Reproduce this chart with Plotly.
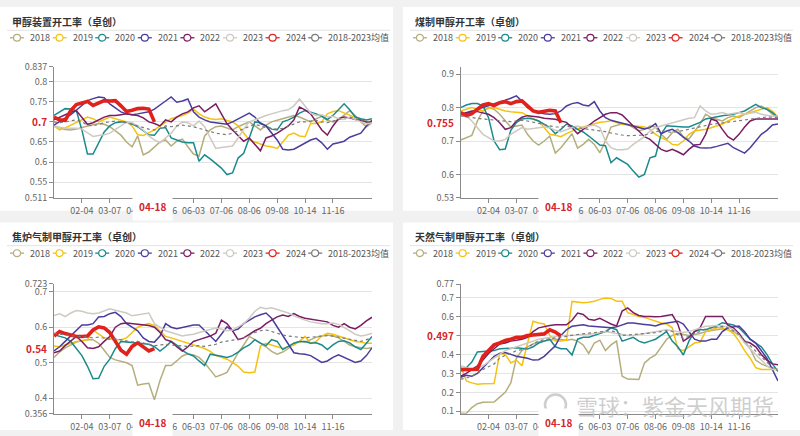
import plotly.graph_objects as go

# ---------------- data ----------------
weeks = list(range(58))
tick_idx = [5, 10, 15, 20, 25, 30, 35, 40, 45, 50]
tick_text = ["02-04", "03-07", "04-01", "05-06", "06-03", "07-06", "08-06", "09-08", "10-14", "11-16"]
current_label = "04-18"

series_names = ["2018", "2019", "2020", "2021", "2022", "2023", "2024", "2018-2023均值"]

# Panel 1: 甲醇装置开工率
p1_2018 = [0.690,0.686,0.681,0.680,0.682,0.686,0.690,0.693,0.696,0.694,0.688,0.678,0.667,0.650,0.638,0.665,0.618,0.625,0.638,0.650,0.655,0.640,0.652,0.657,0.638,0.620,0.615,0.665,0.680,0.688,0.690,0.685,0.680,0.688,0.695,0.700,0.690,0.680,0.692,0.700,0.704,0.708,0.712,0.716,0.712,0.705,0.700,0.708,0.714,0.704,0.700,0.706,0.716,0.728,0.716,0.700,0.688,0.698]
p1_2019 = [0.690,0.680,0.685,0.692,0.700,0.706,0.712,0.708,0.700,0.706,0.712,0.708,0.704,0.700,0.690,0.668,0.666,0.672,0.680,0.690,0.700,0.708,0.712,0.716,0.722,0.732,0.720,0.712,0.708,0.706,0.708,0.704,0.700,0.690,0.672,0.655,0.650,0.645,0.640,0.638,0.634,0.650,0.667,0.672,0.665,0.663,0.696,0.696,0.700,0.720,0.726,0.728,0.722,0.716,0.712,0.706,0.700,0.702]
p1_2020 = [0.716,0.724,0.733,0.732,0.728,0.680,0.620,0.620,0.648,0.675,0.690,0.698,0.700,0.700,0.695,0.688,0.678,0.668,0.667,0.684,0.686,0.660,0.655,0.650,0.648,0.648,0.602,0.618,0.608,0.597,0.585,0.569,0.573,0.610,0.622,0.660,0.700,0.698,0.690,0.682,0.680,0.700,0.705,0.712,0.722,0.728,0.724,0.720,0.714,0.706,0.716,0.730,0.745,0.730,0.712,0.708,0.705,0.708]
p1_2021 = [0.692,0.700,0.708,0.718,0.729,0.740,0.753,0.758,0.762,0.760,0.745,0.735,0.725,0.720,0.718,0.720,0.722,0.725,0.732,0.741,0.752,0.762,0.749,0.752,0.757,0.725,0.712,0.705,0.700,0.698,0.696,0.694,0.700,0.708,0.716,0.722,0.712,0.696,0.690,0.672,0.655,0.632,0.630,0.632,0.640,0.648,0.655,0.659,0.648,0.632,0.645,0.648,0.652,0.662,0.668,0.672,0.690,0.704]
p1_2022 = [0.705,0.712,0.718,0.724,0.728,0.710,0.694,0.698,0.706,0.712,0.716,0.716,0.718,0.720,0.718,0.716,0.710,0.700,0.696,0.690,0.705,0.700,0.712,0.720,0.725,0.735,0.740,0.725,0.735,0.745,0.720,0.696,0.680,0.665,0.652,0.660,0.645,0.628,0.660,0.665,0.672,0.680,0.690,0.705,0.737,0.730,0.720,0.700,0.680,0.667,0.690,0.708,0.712,0.710,0.706,0.704,0.700,0.700]
p1_2023 = [0.688,0.686,0.685,0.684,0.684,0.682,0.672,0.664,0.666,0.668,0.672,0.680,0.690,0.700,0.698,0.690,0.680,0.665,0.655,0.648,0.660,0.672,0.690,0.700,0.698,0.690,0.702,0.688,0.660,0.634,0.636,0.638,0.640,0.660,0.682,0.700,0.706,0.710,0.716,0.720,0.724,0.728,0.730,0.740,0.757,0.738,0.722,0.716,0.718,0.712,0.714,0.708,0.706,0.712,0.705,0.700,0.695,0.698]
p1_2024 = [0.712,0.705,0.704,0.728,0.743,0.748,0.751,0.741,0.748,0.753,0.752,0.753,0.740,0.726,0.729,0.733,0.734,0.732,0.700]
p1_avg = [0.700,0.698,0.700,0.703,0.705,0.700,0.692,0.690,0.694,0.698,0.700,0.702,0.700,0.698,0.694,0.690,0.686,0.682,0.680,0.684,0.690,0.688,0.690,0.692,0.690,0.688,0.684,0.680,0.676,0.672,0.670,0.668,0.672,0.678,0.684,0.690,0.694,0.690,0.686,0.684,0.682,0.684,0.690,0.696,0.700,0.700,0.702,0.704,0.700,0.698,0.702,0.706,0.710,0.712,0.708,0.704,0.700,0.700]

# Panel 2: 煤制甲醇开工率
p2_2018 = [0.703,0.710,0.717,0.760,0.790,0.800,0.795,0.780,0.760,0.742,0.745,0.748,0.720,0.700,0.688,0.700,0.715,0.664,0.680,0.700,0.722,0.679,0.690,0.705,0.690,0.665,0.700,0.742,0.748,0.752,0.750,0.740,0.730,0.735,0.745,0.742,0.720,0.705,0.725,0.735,0.712,0.706,0.730,0.751,0.780,0.770,0.765,0.760,0.770,0.775,0.770,0.780,0.790,0.800,0.805,0.795,0.780,0.770]
p2_2019 = [0.790,0.795,0.800,0.795,0.790,0.798,0.800,0.795,0.790,0.788,0.786,0.785,0.776,0.766,0.760,0.740,0.720,0.717,0.713,0.722,0.730,0.737,0.742,0.747,0.752,0.756,0.758,0.761,0.755,0.750,0.748,0.746,0.745,0.742,0.735,0.720,0.710,0.703,0.690,0.688,0.700,0.720,0.730,0.732,0.735,0.740,0.745,0.751,0.760,0.768,0.775,0.780,0.785,0.790,0.795,0.800,0.790,0.771]
p2_2020 = [0.800,0.808,0.812,0.812,0.805,0.770,0.700,0.674,0.676,0.732,0.755,0.766,0.768,0.766,0.760,0.750,0.740,0.722,0.735,0.751,0.745,0.735,0.727,0.715,0.700,0.688,0.686,0.635,0.650,0.640,0.630,0.610,0.592,0.600,0.650,0.655,0.720,0.746,0.744,0.742,0.742,0.742,0.748,0.756,0.766,0.770,0.774,0.776,0.778,0.780,0.785,0.790,0.800,0.810,0.800,0.795,0.785,0.771]
p2_2021 = [0.778,0.782,0.788,0.795,0.800,0.806,0.812,0.816,0.822,0.828,0.835,0.820,0.800,0.790,0.785,0.782,0.780,0.782,0.790,0.805,0.812,0.815,0.808,0.805,0.818,0.790,0.770,0.762,0.758,0.754,0.750,0.746,0.742,0.736,0.740,0.752,0.722,0.730,0.735,0.725,0.712,0.700,0.685,0.680,0.679,0.680,0.684,0.688,0.693,0.680,0.672,0.664,0.680,0.700,0.720,0.732,0.748,0.751]
p2_2022 = [0.780,0.785,0.790,0.788,0.785,0.780,0.770,0.755,0.735,0.740,0.760,0.771,0.776,0.775,0.772,0.768,0.766,0.765,0.760,0.756,0.740,0.722,0.735,0.746,0.760,0.771,0.780,0.785,0.785,0.778,0.760,0.745,0.730,0.713,0.705,0.690,0.675,0.669,0.675,0.668,0.659,0.675,0.688,0.690,0.720,0.766,0.760,0.735,0.713,0.703,0.720,0.742,0.760,0.766,0.766,0.766,0.766,0.766]
p2_2023 = [0.780,0.775,0.760,0.740,0.720,0.710,0.700,0.700,0.705,0.720,0.730,0.740,0.735,0.738,0.740,0.742,0.740,0.732,0.728,0.735,0.740,0.745,0.740,0.745,0.748,0.740,0.700,0.680,0.674,0.674,0.676,0.690,0.702,0.713,0.730,0.740,0.745,0.750,0.755,0.760,0.765,0.768,0.770,0.805,0.790,0.780,0.782,0.785,0.780,0.782,0.785,0.780,0.782,0.786,0.780,0.776,0.774,0.775]
p2_2024 = [0.785,0.776,0.782,0.795,0.808,0.812,0.806,0.815,0.818,0.812,0.818,0.820,0.805,0.790,0.786,0.788,0.792,0.790,0.755]
p2_avg = [0.775,0.772,0.770,0.768,0.766,0.764,0.762,0.760,0.760,0.758,0.760,0.762,0.760,0.756,0.752,0.748,0.745,0.742,0.742,0.744,0.742,0.740,0.738,0.736,0.734,0.732,0.728,0.724,0.720,0.718,0.716,0.716,0.717,0.718,0.722,0.728,0.730,0.728,0.726,0.728,0.732,0.736,0.740,0.744,0.748,0.750,0.752,0.754,0.756,0.758,0.760,0.762,0.765,0.768,0.770,0.772,0.771,0.770]

# Panel 3: 焦炉气制甲醇开工率
p3_2018 = [0.515,0.530,0.542,0.550,0.558,0.562,0.565,0.565,0.555,0.535,0.515,0.508,0.505,0.500,0.492,0.437,0.440,0.442,0.396,0.450,0.492,0.492,0.505,0.519,0.525,0.522,0.515,0.500,0.480,0.460,0.466,0.473,0.500,0.528,0.550,0.574,0.565,0.555,0.545,0.532,0.524,0.530,0.540,0.555,0.560,0.558,0.565,0.572,0.575,0.578,0.575,0.570,0.560,0.550,0.545,0.542,0.540,0.542]
p3_2019 = [0.547,0.545,0.550,0.556,0.560,0.562,0.565,0.592,0.580,0.570,0.568,0.565,0.565,0.570,0.585,0.600,0.606,0.610,0.605,0.590,0.574,0.570,0.565,0.560,0.555,0.550,0.545,0.540,0.532,0.520,0.515,0.510,0.501,0.490,0.474,0.472,0.474,0.547,0.555,0.550,0.545,0.540,0.545,0.550,0.560,0.574,0.555,0.560,0.575,0.583,0.580,0.575,0.570,0.565,0.560,0.558,0.555,0.555]
p3_2020 = [0.579,0.575,0.570,0.560,0.540,0.520,0.490,0.455,0.456,0.490,0.510,0.540,0.560,0.558,0.556,0.555,0.554,0.552,0.545,0.533,0.545,0.560,0.550,0.535,0.525,0.519,0.505,0.492,0.524,0.520,0.518,0.515,0.520,0.530,0.542,0.550,0.565,0.555,0.548,0.565,0.560,0.537,0.545,0.555,0.560,0.560,0.555,0.556,0.550,0.537,0.550,0.560,0.562,0.556,0.545,0.537,0.555,0.574]
p3_2021 = [0.533,0.545,0.560,0.575,0.592,0.606,0.606,0.610,0.629,0.630,0.638,0.642,0.630,0.610,0.600,0.590,0.570,0.560,0.558,0.575,0.610,0.600,0.596,0.600,0.604,0.606,0.606,0.590,0.575,0.560,0.580,0.601,0.590,0.595,0.610,0.620,0.629,0.635,0.640,0.625,0.600,0.574,0.550,0.528,0.525,0.524,0.520,0.510,0.501,0.505,0.515,0.522,0.515,0.508,0.501,0.505,0.520,0.542]
p3_2022 = [0.528,0.533,0.548,0.562,0.574,0.560,0.542,0.540,0.545,0.560,0.574,0.600,0.610,0.612,0.610,0.608,0.606,0.605,0.600,0.585,0.565,0.560,0.545,0.533,0.545,0.560,0.565,0.570,0.575,0.583,0.620,0.610,0.590,0.565,0.570,0.580,0.590,0.597,0.610,0.620,0.629,0.634,0.630,0.638,0.630,0.625,0.622,0.620,0.618,0.615,0.605,0.600,0.610,0.600,0.595,0.605,0.618,0.628]
p3_2023 = [0.633,0.638,0.630,0.640,0.647,0.645,0.640,0.638,0.640,0.645,0.652,0.648,0.645,0.640,0.632,0.635,0.638,0.640,0.610,0.600,0.590,0.585,0.580,0.575,0.578,0.580,0.585,0.590,0.595,0.598,0.595,0.590,0.592,0.600,0.610,0.625,0.645,0.656,0.652,0.655,0.650,0.645,0.640,0.632,0.625,0.620,0.615,0.612,0.610,0.610,0.612,0.608,0.600,0.590,0.580,0.575,0.578,0.583]
p3_2024 = [0.575,0.588,0.582,0.578,0.574,0.574,0.575,0.592,0.601,0.598,0.585,0.560,0.535,0.524,0.546,0.556,0.545,0.533,0.540]
p3_avg = [0.583,0.580,0.578,0.576,0.575,0.574,0.572,0.570,0.572,0.568,0.566,0.568,0.565,0.560,0.558,0.560,0.556,0.553,0.548,0.550,0.552,0.550,0.548,0.547,0.546,0.547,0.548,0.546,0.548,0.552,0.558,0.560,0.562,0.566,0.570,0.578,0.585,0.590,0.592,0.588,0.582,0.578,0.575,0.574,0.572,0.570,0.572,0.574,0.575,0.576,0.575,0.572,0.570,0.566,0.562,0.560,0.565,0.570]

# Panel 4: 天然气制甲醇开工率
p4_2018 = [0.090,0.089,0.120,0.140,0.148,0.148,0.149,0.175,0.200,0.250,0.380,0.420,0.440,0.455,0.465,0.470,0.475,0.480,0.478,0.475,0.480,0.470,0.450,0.405,0.460,0.475,0.420,0.450,0.470,0.285,0.270,0.268,0.268,0.354,0.380,0.397,0.440,0.480,0.500,0.510,0.505,0.500,0.505,0.510,0.520,0.525,0.530,0.535,0.530,0.520,0.500,0.470,0.430,0.370,0.350,0.337,0.330,0.320]
p4_2019 = [0.340,0.260,0.250,0.243,0.245,0.245,0.246,0.405,0.400,0.355,0.370,0.340,0.450,0.575,0.565,0.560,0.500,0.470,0.470,0.475,0.679,0.675,0.672,0.675,0.680,0.690,0.697,0.695,0.680,0.680,0.620,0.610,0.600,0.595,0.585,0.575,0.565,0.560,0.540,0.430,0.420,0.440,0.460,0.465,0.520,0.530,0.540,0.540,0.530,0.510,0.470,0.420,0.380,0.330,0.320,0.320,0.320,0.320]
p4_2020 = [0.320,0.330,0.360,0.413,0.415,0.418,0.420,0.430,0.430,0.432,0.435,0.430,0.428,0.440,0.460,0.470,0.480,0.440,0.430,0.430,0.397,0.480,0.490,0.490,0.500,0.510,0.520,0.540,0.530,0.470,0.480,0.490,0.470,0.460,0.470,0.480,0.500,0.520,0.470,0.440,0.397,0.470,0.520,0.530,0.530,0.540,0.550,0.567,0.560,0.555,0.540,0.510,0.480,0.460,0.440,0.400,0.350,0.310]
p4_2021 = [0.280,0.290,0.285,0.300,0.330,0.360,0.390,0.405,0.410,0.400,0.390,0.385,0.380,0.370,0.372,0.390,0.420,0.445,0.500,0.530,0.548,0.552,0.556,0.550,0.548,0.545,0.545,0.540,0.545,0.555,0.565,0.565,0.560,0.558,0.555,0.550,0.560,0.565,0.570,0.575,0.560,0.520,0.480,0.470,0.470,0.480,0.480,0.520,0.540,0.545,0.550,0.520,0.480,0.460,0.420,0.380,0.320,0.260]
p4_2022 = [0.285,0.300,0.320,0.340,0.370,0.405,0.430,0.455,0.460,0.470,0.475,0.480,0.490,0.520,0.540,0.548,0.552,0.556,0.556,0.556,0.580,0.618,0.610,0.585,0.580,0.590,0.575,0.560,0.550,0.628,0.645,0.620,0.605,0.600,0.600,0.598,0.600,0.605,0.610,0.560,0.470,0.490,0.520,0.540,0.600,0.600,0.600,0.600,0.554,0.540,0.510,0.470,0.460,0.440,0.400,0.370,0.350,0.345]
p4_2023 = [0.340,0.330,0.320,0.325,0.340,0.360,0.380,0.400,0.420,0.430,0.440,0.450,0.460,0.470,0.480,0.485,0.490,0.495,0.498,0.500,0.500,0.502,0.505,0.505,0.510,0.515,0.520,0.515,0.510,0.505,0.500,0.500,0.505,0.510,0.515,0.520,0.525,0.530,0.525,0.520,0.515,0.520,0.530,0.540,0.548,0.550,0.552,0.550,0.545,0.530,0.500,0.460,0.430,0.400,0.370,0.340,0.320,0.320]
p4_2024 = [0.320,0.320,0.320,0.322,0.390,0.422,0.450,0.460,0.473,0.480,0.490,0.490,0.499,0.502,0.504,0.508,0.530,0.518,0.497]
p4_avg = [0.270,0.275,0.285,0.300,0.320,0.335,0.350,0.380,0.395,0.405,0.420,0.425,0.435,0.455,0.470,0.478,0.482,0.485,0.490,0.495,0.500,0.505,0.510,0.512,0.515,0.520,0.522,0.524,0.518,0.500,0.502,0.505,0.508,0.510,0.512,0.515,0.520,0.525,0.522,0.505,0.485,0.495,0.510,0.520,0.535,0.540,0.545,0.548,0.540,0.525,0.505,0.475,0.445,0.415,0.385,0.355,0.330,0.315]

titles = ["甲醇装置开工率（卓创）", "煤制甲醇开工率（卓创）", "焦炉气制甲醇开工率（卓创）", "天然气制甲醇开工率（卓创）"]
y_ticks = [
    [0.511, 0.55, 0.6, 0.65, 0.7, 0.75, 0.8, 0.837],
    [0.53, 0.6, 0.7, 0.8, 0.9],
    [0.356, 0.4, 0.5, 0.6, 0.7, 0.723],
    [0.1, 0.2, 0.3, 0.4, 0.5, 0.6, 0.7, 0.77],
]
y_ranges = [[0.511, 0.837], [0.53, 0.922], [0.356, 0.723], [0.087, 0.77]]
panel_series = [
    [p1_2018, p1_2019, p1_2020, p1_2021, p1_2022, p1_2023, p1_2024, p1_avg],
    [p2_2018, p2_2019, p2_2020, p2_2021, p2_2022, p2_2023, p2_2024, p2_avg],
    [p3_2018, p3_2019, p3_2020, p3_2021, p3_2022, p3_2023, p3_2024, p3_avg],
    [p4_2018, p4_2019, p4_2020, p4_2021, p4_2022, p4_2023, p4_2024, p4_avg],
]

# ---------------- styles / layout ----------------
W, H = 800, 436
def px(x): return x / W
def py(y): return 1 - y / H

colors = ["#b5ae7c", "#f5c20f", "#1b8a8c", "#4a3d9c", "#7b1d63", "#cfcac1", "#e0211c", "#7a7a7a"]
widths = [1.5, 1.5, 1.5, 1.5, 1.5, 1.5, 3.6, 1.2]
dashes = ["solid"] * 7 + ["dot"]
FONT = "Noto Sans CJK SC"

# panel geometry in pixels
geo = [
    dict(box=(0, 0, 393, 210), ax=(54, 372), ay=(61.7, 196.7)),
    dict(box=(403, 0, 800, 210), ax=(460.7, 778), ay=(61.7, 196.7)),
    dict(box=(0, 222, 393, 436), ax=(54, 372), ay=(285, 419.4)),
    dict(box=(403, 222, 800, 436), ax=(460.7, 778), ay=(285.7, 419.3)),
]

fig = go.Figure()
layout = dict(
    width=W, height=H, margin=dict(l=0, r=0, t=0, b=0),
    paper_bgcolor="#f1f1f1", plot_bgcolor="rgba(0,0,0,0)",
    showlegend=False, font=dict(family=FONT, size=9, color="#666"),
)
shapes, annotations = [], []

for k in range(4):
    g = geo[k]
    sfx = "" if k == 0 else str(k + 1)
    xa, ya = "x" + sfx, "y" + sfx
    bx0, by0, bx1, by1 = g["box"]
    shapes.append(dict(type="rect", xref="paper", yref="paper", x0=px(bx0), x1=px(bx1), y0=py(by1), y1=py(by0),
                       fillcolor="white", line=dict(width=0), layer="below"))
    # title + divider
    annotations.append(dict(text="<b>" + titles[k] + "</b>", xref="paper", yref="paper", x=px(bx0 + 10), y=py(by0 + 15),
                            xanchor="left", yanchor="middle", showarrow=False, font=dict(size=10, color="#333", family=FONT)))
    shapes.append(dict(type="line", xref="paper", yref="paper", x0=px(bx0 + 7), x1=px(bx0 + 390), y0=py(by0 + 24), y1=py(by0 + 24),
                       line=dict(color="#e3e3e3", width=1)))
    # legend
    ly = by0 + 31.7
    for s, name in enumerate(series_names):
        lx = bx0 + 10 + s * 42.6
        c = colors[s]
        shapes.append(dict(type="line", xref="paper", yref="paper", x0=px(lx), x1=px(lx + 14), y0=py(ly), y1=py(ly),
                           line=dict(color=c, width=1.3)))
        shapes.append(dict(type="circle", xref="paper", yref="paper", x0=px(lx + 3.5), x1=px(lx + 10.5),
                           y0=py(ly + 3.5), y1=py(ly - 3.5), fillcolor="white", line=dict(color=c, width=1.2)))
        annotations.append(dict(text=name, xref="paper", yref="paper", x=px(lx + 18), y=py(ly), xanchor="left",
                                yanchor="middle", showarrow=False, font=dict(size=9, color="#555", family=FONT)))
    # traces
    for s, vals in enumerate(panel_series[k]):
        fig.add_trace(go.Scatter(
            x=weeks[:len(vals)], y=vals, mode="lines", name=series_names[s],
            line=dict(color=colors[s], width=widths[s], dash=dashes[s]),
            xaxis=xa, yaxis=ya, hoverinfo="skip", showlegend=False))
    ax0, ax1 = g["ax"]
    ay0, ay1 = g["ay"]
    layout["xaxis" + sfx] = dict(
        domain=[px(ax0), px(ax1)], range=[0, len(weeks) - 1], anchor=ya,
        tickvals=tick_idx, ticktext=tick_text, showgrid=False, zeroline=False,
        showline=True, linecolor="#8a8a8a", linewidth=1, ticks="outside", ticklen=4, tickcolor="#8a8a8a",
        tickfont=dict(size=9, color="#666", family=FONT), fixedrange=True)
    yt = y_ticks[k]
    layout["yaxis" + sfx] = dict(
        domain=[py(ay1), py(ay0)], range=y_ranges[k], anchor=xa,
        tickvals=yt, ticktext=[format(v, "g") for v in yt], showgrid=True, gridcolor="#e4e4e4", gridwidth=1,
        zeroline=False, showline=True, linecolor="#8a8a8a", linewidth=1, ticks="outside", ticklen=4,
        tickcolor="#8a8a8a", tickfont=dict(size=9, color="#666", family=FONT), fixedrange=True)
    # axis-pointer labels for the latest 2024 value
    cur = panel_series[k][6]
    last_i = len(cur) - 1
    annotations.append(dict(text="<b>" + format(cur[-1], "g") + "</b>", xref="paper", yref=ya,
                            x=px(ax0 - 4), y=cur[-1], xanchor="right", yanchor="middle", showarrow=False,
                            bgcolor="white", borderpad=2, font=dict(size=10, color="#d7232a", family=FONT)))
    annotations.append(dict(text="<b>" + current_label + "</b>", xref=xa, yref="paper",
                            x=weeks[last_i], y=py(ay1 + 8.5), xanchor="center", yanchor="middle", showarrow=False,
                            xshift=-2, bgcolor="white", borderpad=6, font=dict(size=10, color="#d7232a", family=FONT)))

# watermark
annotations.append(dict(text="雪球：紫金天风期货", xref="paper", yref="paper", x=px(574), y=py(410), xanchor="left",
                        yanchor="middle", showarrow=False, font=dict(size=22, color="rgba(190,190,190,0.75)", family=FONT)))
shapes.append(dict(type="circle", xref="paper", yref="paper", x0=px(545), x1=px(566), y0=py(420.5), y1=py(399.5),
                   line=dict(color="rgba(190,190,190,0.75)", width=2.5)))

layout["shapes"] = shapes
layout["annotations"] = annotations
fig.update_layout(**layout)
fig.write_html("out.html", config={"displayModeBar": False},
               post_script="document.body.style.margin='0px';document.body.style.overflow='hidden';")
